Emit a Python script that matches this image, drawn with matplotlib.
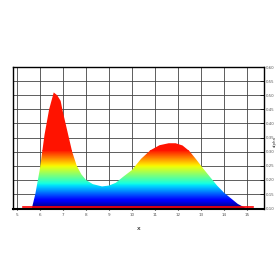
import numpy as np
import matplotlib
matplotlib.use("Agg")
import matplotlib.pyplot as plt
from matplotlib.patches import PathPatch
from matplotlib.colors import ListedColormap

x_vals = [5.65, 5.8, 6.0, 6.2, 6.4, 6.6, 6.75, 6.9, 7.0, 7.2, 7.4, 7.6, 7.8, 8.0, 8.3,
          8.7, 9.0, 9.3, 9.6, 10.0, 10.4, 10.8, 11.2, 11.6, 11.9, 12.2, 12.5, 12.8,
          13.1, 13.4, 13.7, 14.0, 14.3, 14.6, 14.95]
y_vals = [0.10, 0.15, 0.24, 0.36, 0.45, 0.51, 0.50, 0.48, 0.44, 0.37, 0.30, 0.25, 0.22,
          0.20, 0.185, 0.177, 0.18, 0.19, 0.21, 0.235, 0.275, 0.305, 0.323, 0.33, 0.33,
          0.322, 0.302, 0.272, 0.24, 0.21, 0.18, 0.155, 0.135, 0.115, 0.10]
baseline = 0.10
red_x = [5.27, 15.26]
red_y = [0.104, 0.104]
xticks = list(range(5, 16))
yticks = [0.10, 0.15, 0.20, 0.25, 0.30, 0.35, 0.40, 0.45, 0.50, 0.55, 0.60]

jet = plt.get_cmap('jet')
cmap = ListedColormap(jet(np.linspace(0.0, 0.89, 256)))

fig = plt.figure(figsize=(2.77, 2.77), dpi=100)
ax = fig.add_axes([0.047, 0.245, 0.906, 0.513])
ax.set_xlim(4.83, 15.74)
ax.set_ylim(0.0965, 0.60)

poly = ax.fill_between(x_vals, y_vals, baseline, color='none', lw=0)
path = poly.get_paths()[0]
patch = PathPatch(path, transform=ax.transData, facecolor='none', edgecolor='none')
ax.add_patch(patch)
grad = np.linspace(0, 1, 256).reshape(-1, 1)
im = ax.imshow(grad, extent=[4.83, 15.74, 0.10, 0.305], origin='lower', aspect='auto',
               cmap=cmap, zorder=2, interpolation='bilinear')
top = ax.fill_between([4.83, 15.74], 0.304, 0.60, color=cmap(1.0), lw=0, zorder=2)
im.set_clip_path(patch)
top.set_clip_path(patch)

ax.plot(red_x, red_y, color='red', lw=1.2, zorder=3)

ax.set_xticks(xticks)
ax.set_yticks(yticks)
ax.set_yticklabels([f"{v:.2f}" for v in yticks])
ax.grid(True, color='#444444', lw=0.6, zorder=1)
ax.set_axisbelow(True)
ax.yaxis.tick_right()
ax.tick_params(axis='y', direction='in', labelsize=2.8, length=3, width=0.5, pad=1,
               labelcolor='#555555')
ax.tick_params(axis='x', direction='inout', labelsize=3.0, length=2, width=0.8, pad=2,
               labelcolor='#555555')
for s in ax.spines.values():
    s.set_linewidth(1.0)
ax.spines['bottom'].set_linewidth(1.5)
ax.set_xlabel('x', fontsize=4.5, labelpad=6)
fig.text(275.2 / 277, 1 - 142 / 277, 'alpha', rotation=90, ha='center', va='center',
         fontsize=2.8, color='#333333')

fig.savefig('out.png', dpi=100)
